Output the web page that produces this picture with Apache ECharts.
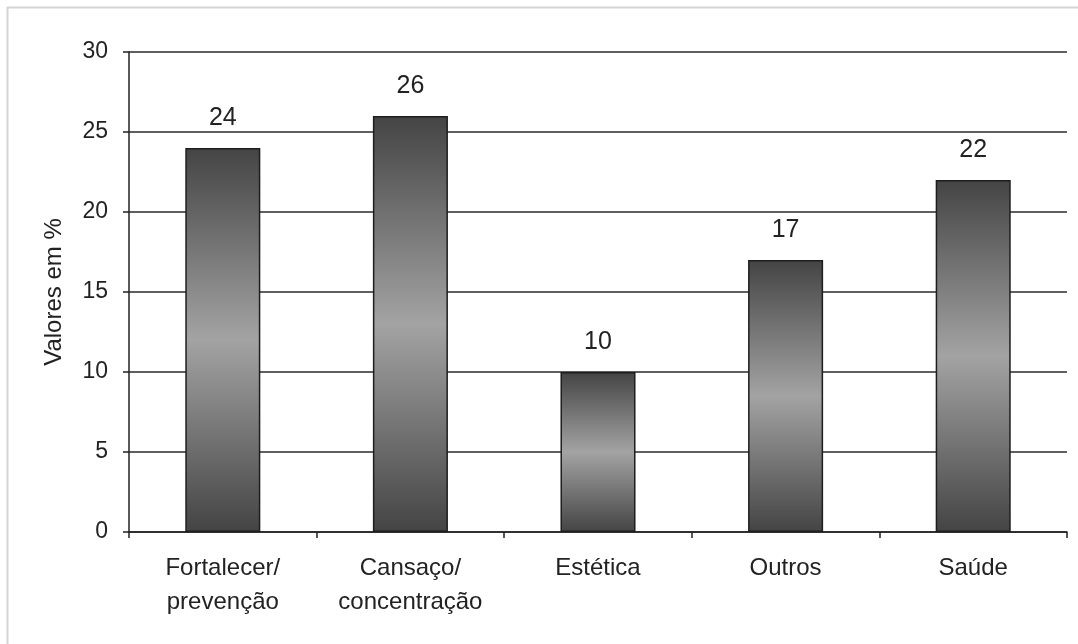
<!DOCTYPE html>
<html>
<head>
<meta charset="utf-8">
<script src="https://cdn.jsdelivr.net/npm/echarts@6/dist/echarts.min.js"></script>
<style>
  html, body { margin: 0; padding: 0; background: #fff; }
  #chart { width: 1078px; height: 644px; }
</style>
</head>
<body>
<div id="chart"></div>
<script>
// Motivos citados (percentagem das respostas)
const categories = ['Fortalecer/\nprevenção', 'Cansaço/\nconcentração', 'Estética', 'Outros', 'Saúde'];
const values = [24, 26, 10, 17, 22];
const yTicks = [0, 5, 10, 15, 20, 25, 30];

const FONT = '"Liberation Sans", Arial, sans-serif';

// Vertical gradient: dark at both ends, light in the middle
const barFill = new echarts.graphic.LinearGradient(0, 0, 0, 1, [
  { offset: 0, color: '#444444' },
  { offset: 0.5, color: '#a3a3a3' },
  { offset: 1, color: '#444444' }
]);

const chart = echarts.init(document.getElementById('chart'), null, { renderer: 'canvas' });

chart.setOption({
  animation: false,
  backgroundColor: '#fff',
  graphic: [{
    type: 'rect',
    shape: { x: 7.5, y: 7.5, width: 1080, height: 650 },
    style: { fill: 'none', stroke: '#d4d4d4', lineWidth: 2 },
    silent: true,
    z: 0
  }],
  grid: { left: 129, right: 11, top: 52, bottom: 112, containLabel: false },
  xAxis: {
    type: 'category',
    data: categories,
    boundaryGap: true,
    axisLine: { show: true, lineStyle: { color: '#222', width: 1.5 } },
    axisTick: { show: true, alignWithLabel: false, length: 6, lineStyle: { color: '#222', width: 1.5 } },
    axisLabel: {
      interval: 0,
      margin: 19,
      fontFamily: FONT,
      fontSize: 24,
      lineHeight: 34,
      color: '#222'
    },
    splitLine: { show: false }
  },
  yAxis: {
    type: 'value',
    min: yTicks[0],
    max: yTicks[yTicks.length - 1],
    interval: yTicks[1] - yTicks[0],
    name: 'Valores em %',
    nameLocation: 'middle',
    nameGap: 63,
    nameRotate: 90,
    nameTextStyle: { fontFamily: FONT, fontSize: 24, color: '#222' },
    axisLine: { show: true, lineStyle: { color: '#222', width: 1.5 } },
    axisTick: { show: true, length: 6, lineStyle: { color: '#222', width: 1.5 } },
    axisLabel: { margin: 21, fontFamily: FONT, fontSize: 23, color: '#222' },
    splitLine: { show: true, lineStyle: { color: '#2a2a2a', width: 1.5 } }
  },
  series: [{
    type: 'bar',
    data: values,
    barWidth: '40%',
    itemStyle: {
      color: barFill,
      borderColor: '#1e1e1e',
      borderWidth: 1.5
    },
    label: {
      show: true,
      position: 'top',
      distance: 17,
      fontFamily: FONT,
      fontSize: 25,
      color: '#222'
    }
  }]
});
</script>
</body>
</html>
